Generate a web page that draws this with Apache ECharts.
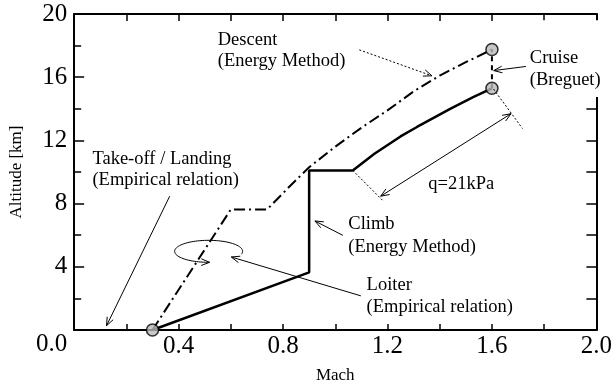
<!DOCTYPE html>
<html>
<head>
<meta charset="utf-8">
<script src="https://cdn.jsdelivr.net/npm/echarts@6/dist/echarts.min.js"></script>
<style>
  html, body { margin: 0; padding: 0; background: #fff; }
  #chart { width: 615px; height: 389px; }
</style>
</head>
<body>
<div id="chart"></div>
<script>
// mission profile, Mach vs altitude [km]
var climbMach = [0.3, 0.9, 0.9, 1.067, 1.15, 1.25, 1.313, 1.44, 1.53, 1.6];
var climbAlt = [0, 3.65, 10.1, 10.1, 11.15, 12.25, 12.85, 14.0, 14.75, 15.3];
var cruiseMach = [1.6, 1.6];
var cruiseAlt = [15.3, 17.75];
var descentMach = [0.3, 0.6, 0.739, 0.82, 0.9, 1.0, 1.1, 1.2, 1.3, 1.4, 1.5, 1.6];
var descentAlt = [0, 7.63, 7.63, 9.0, 10.3, 11.6, 12.8, 13.9, 15.1, 16.1, 16.95, 17.75];
var pointMach = [0.3, 1.6, 1.6];
var pointAlt = [0, 15.3, 17.75];

// annotation texts: [mach, alt (line centre), text]
var labels = [
  [0.550, 18.36, 'Descent'], [0.550, 17.03, '(Energy Method)'],
  [1.745, 17.22, 'Cruise'], [1.745, 15.84, '(Breguet)'],
  [0.070, 10.79, 'Take-off / Landing'], [0.070, 9.46, '(Empirical relation)'],
  [1.050, 6.69, 'Climb'], [1.050, 5.24, '(Energy Method)'],
  [1.120, 2.84, 'Loiter'], [1.120, 1.45, '(Empirical relation)'],
  [1.356, 9.21, 'q=21kPa']
];
// arrows: from, to, dotted?, double-headed?
var arrows = [
  [[1.092, 17.73], [1.370, 16.09], true, false],
  [[1.730, 16.68], [1.607, 16.42], false, false],
  [[1.174, 8.47], [1.673, 13.69], false, true],
  [[0.366, 8.47], [0.124, 0.27], false, false],
  [[1.029, 5.99], [0.922, 6.90], false, false],
  [[1.098, 2.16], [0.602, 4.62], false, false]
];
var guides = [
  [[1.606, 15.25], [1.717, 12.75]],
  [[1.067, 10.1], [1.184, 8.16]]
];
// white box behind the Cruise label (it hides part of the frame)
var cruiseBox = [[1.735, 19.6], [2.1, 14.75]];

var FONT = "'Liberation Serif', 'Times New Roman', serif";

function pairs(xs, ys) {
  return xs.map(function (x, i) { return [x, ys[i]]; });
}

var chart = echarts.init(document.getElementById('chart'));

function ticks(len, minorLen) {
  return {
    axisTick: { inside: true, length: len, lineStyle: { color: '#000', width: 1.5 } },
    minorTick: { show: true, splitNumber: 2, length: minorLen, lineStyle: { color: '#000', width: 1.5 } }
  };
}

var axisBase = {
  type: 'value',
  axisLine: { show: true, onZero: false, lineStyle: { color: '#000', width: 2 } },
  splitLine: { show: false }
};

var option = {
  animation: false,
  grid: { left: 70, right: 17, top: 14, bottom: 58 },
  xAxis: [
    Object.assign({}, axisBase, ticks(6, 6), {
      min: 0, max: 2.0, interval: 0.4,
      name: 'Mach', nameLocation: 'middle', nameGap: 37,
      nameTextStyle: { color: '#000', fontFamily: FONT, fontSize: 17 },
      axisLabel: {
        color: '#000', fontFamily: FONT, fontSize: 25, margin: 4,
        formatter: function (v) { return v === 0 ? '' : v.toFixed(1); }
      }
    }),
    Object.assign({}, axisBase, ticks(7, 7), {
      position: 'top', min: 0, max: 2.0, interval: 0.4,
      axisLabel: { show: false }
    })
  ],
  yAxis: [
    Object.assign({}, axisBase, ticks(10, 7), {
      min: 0, max: 20, interval: 4,
      name: 'Altitude [km]', nameLocation: 'middle', nameGap: 49,
      nameTextStyle: { color: '#000', fontFamily: FONT, fontSize: 17 },
      axisLabel: {
        color: '#000', fontFamily: FONT, fontSize: 25, margin: 7,
        formatter: function (v) { return v === 0 ? '{z|0.0}' : String(v); },
        rich: { z: { fontFamily: FONT, fontSize: 25, color: '#000', padding: [28, 0, 0, 0] } }
      }
    }),
    Object.assign({}, axisBase, ticks(10, 10), {
      position: 'right', min: 0, max: 20, interval: 4,
      axisLabel: { show: false }
    })
  ],
  series: [
    {
      name: 'Climb', type: 'line', data: pairs(climbMach, climbAlt),
      symbol: 'none', clip: false,
      lineStyle: { color: '#000', width: 2.5 }
    },
    {
      name: 'Cruise', type: 'line', data: pairs(cruiseMach, cruiseAlt),
      symbol: 'none', clip: false,
      lineStyle: { color: '#000', width: 2, type: [5, 4] }
    },
    {
      name: 'Descent', type: 'line', data: pairs(descentMach, descentAlt),
      symbol: 'none', clip: false,
      lineStyle: { color: '#000', width: 2, type: [11, 4, 2, 4] }
    },
    {
      name: 'Points', type: 'scatter', data: pairs(pointMach, pointAlt),
      symbol: 'circle', symbolSize: 12, clip: false, z: 5,
      itemStyle: { color: '#b9b9b9', borderColor: '#000', borderWidth: 1.5 }
    }
  ]
};

chart.setOption(option);

function px(p) {
  return chart.convertToPixel({ xAxisIndex: 0, yAxisIndex: 0 }, p);
}

function head(tip, from) {
  var a = Math.atan2(tip[1] - from[1], tip[0] - from[0]);
  var L = 9, w = 0.38;
  return [
    [tip[0] - L * Math.cos(a - w), tip[1] - L * Math.sin(a - w)],
    tip,
    [tip[0] - L * Math.cos(a + w), tip[1] - L * Math.sin(a + w)]
  ];
}

var graphics = [];
var b0 = px(cruiseBox[0]), b1 = px(cruiseBox[1]);
graphics.push({
  type: 'rect', z: 100,
  shape: { x: b0[0], y: b0[1], width: b1[0] - b0[0], height: b1[1] - b0[1] },
  style: { fill: '#fff' }
});
labels.forEach(function (l) {
  var p = px([l[0], l[1]]);
  graphics.push({
    type: 'text', x: p[0], y: p[1], z: 101,
    style: { text: l[2], fill: '#000', font: '18.5px ' + FONT, verticalAlign: 'middle' }
  });
});
arrows.forEach(function (a) {
  var p0 = px(a[0]), p1 = px(a[1]);
  var st = { stroke: '#000', lineWidth: 1, fill: null, lineDash: a[2] ? [2, 2] : null };
  graphics.push({ type: 'polyline', z: 101, shape: { points: [p0, p1] }, style: st });
  graphics.push({ type: 'polyline', z: 101, shape: { points: head(p1, p0) }, style: { stroke: '#000', lineWidth: 1, fill: null } });
  if (a[3]) {
    graphics.push({ type: 'polyline', z: 101, shape: { points: head(p0, p1) }, style: { stroke: '#000', lineWidth: 1, fill: null } });
  }
});
guides.forEach(function (g) {
  graphics.push({
    type: 'polyline', z: 101, shape: { points: [px(g[0]), px(g[1])] },
    style: { stroke: '#000', lineWidth: 1, fill: null, lineDash: [2, 2] }
  });
});

// loiter loop
var c = px([0.515, 4.98]);
var rx = 34, ry = 11, loop = [];
for (var t = -15; t <= 268; t += 4) {
  var r = t * Math.PI / 180;
  loop.push([c[0] + rx * Math.cos(r), c[1] - ry * Math.sin(r)]);
}
var last = [c[0] + 1, c[1] + ry];
loop.push(last);
graphics.push({ type: 'polyline', z: 101, shape: { points: loop }, style: { stroke: '#000', lineWidth: 1, fill: null } });
graphics.push({ type: 'polyline', z: 101, shape: { points: head(last, loop[loop.length - 3]) }, style: { stroke: '#000', lineWidth: 1, fill: null } });

chart.setOption({ graphic: graphics });
</script>
</body>
</html>
